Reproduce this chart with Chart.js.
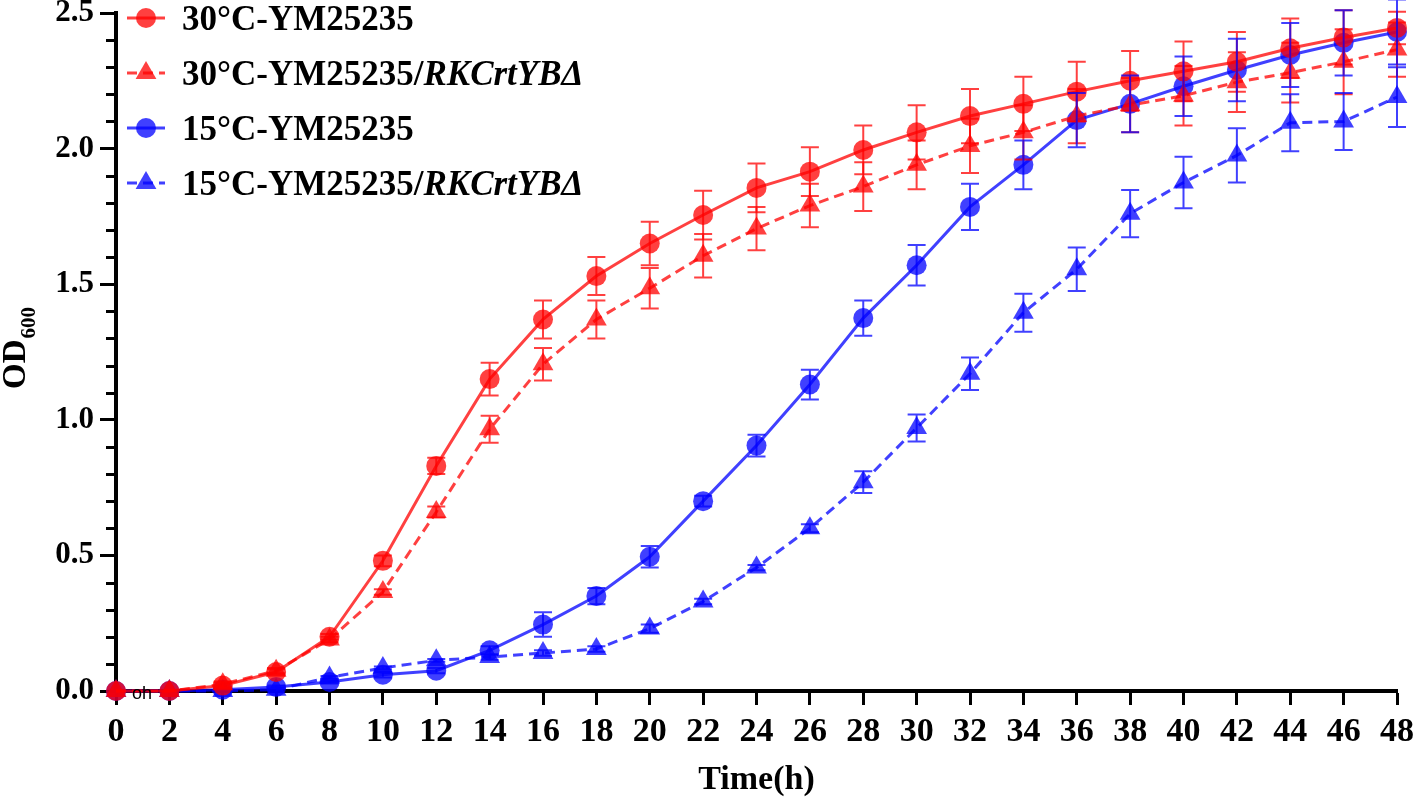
<!DOCTYPE html>
<html>
<head>
<meta charset="utf-8">
<script src="https://cdn.jsdelivr.net/npm/chart.js@4/dist/chart.umd.min.js"></script>
<style>
  html, body { margin: 0; padding: 0; background: #fff; }
  #wrap { width: 1416px; height: 801px; position: relative; }
</style>
</head>
<body>
<div id="wrap"><canvas id="c" width="1416" height="801"></canvas></div>
<script>
// ---- data ----
const timeH = [0,2,4,6,8,10,12,14,16,18,20,22,24,26,28,30,32,34,36,38,40,42,44,46,48];
const xTickLabels = ['0','2','4','6','8','10','12','14','16','18','20','22','24','26','28','30','32','34','36','38','40','42','44','46','48'];
const yMajorTicks = [0, 0.5, 1.0, 1.5, 2.0, 2.5];

const seriesNames = ['30°C-YM25235', '30°C-YM25235/', '15°C-YM25235', '15°C-YM25235/'];
const seriesItalic = ['', 'RKCrtYBΔ', '', 'RKCrtYBΔ'];

const od30WT = [0, 0, 0.02, 0.07, 0.20, 0.48, 0.83, 1.15, 1.37, 1.53, 1.65, 1.755, 1.855, 1.915, 1.995, 2.06, 2.12, 2.165, 2.21, 2.25, 2.285, 2.32, 2.37, 2.41, 2.445];
const sd30WT = [0, 0, 0.01, 0.01, 0.01, 0.02, 0.03, 0.06, 0.07, 0.07, 0.08, 0.09, 0.09, 0.09, 0.09, 0.10, 0.10, 0.10, 0.11, 0.11, 0.11, 0.11, 0.11, 0.10, 0.06];

const od30KO = [0, 0, 0.025, 0.075, 0.19, 0.365, 0.66, 0.965, 1.205, 1.37, 1.485, 1.605, 1.705, 1.79, 1.86, 1.94, 2.01, 2.06, 2.12, 2.16, 2.195, 2.245, 2.28, 2.32, 2.365];
const sd30KO = [0, 0, 0.01, 0.01, 0.01, 0.01, 0.02, 0.05, 0.06, 0.07, 0.075, 0.08, 0.08, 0.08, 0.09, 0.09, 0.10, 0.10, 0.10, 0.10, 0.11, 0.11, 0.11, 0.12, 0.10];

const od15WT = [0, 0, 0.005, 0.015, 0.033, 0.06, 0.075, 0.15, 0.245, 0.35, 0.495, 0.70, 0.905, 1.13, 1.375, 1.57, 1.785, 1.94, 2.105, 2.165, 2.23, 2.29, 2.345, 2.39, 2.43];
const sd15WT = [0, 0, 0, 0.005, 0.005, 0.01, 0.01, 0.015, 0.045, 0.03, 0.04, 0.02, 0.04, 0.055, 0.065, 0.075, 0.085, 0.09, 0.10, 0.105, 0.11, 0.115, 0.118, 0.12, 0.12];

const od15KO = [0, 0, 0, 0.005, 0.05, 0.085, 0.113, 0.125, 0.14, 0.155, 0.23, 0.33, 0.455, 0.60, 0.77, 0.97, 1.17, 1.395, 1.555, 1.76, 1.875, 1.975, 2.095, 2.10, 2.19];
const sd15KO = [0, 0, 0, 0, 0.005, 0.005, 0.005, 0.01, 0.01, 0.01, 0.015, 0.01, 0.01, 0.015, 0.04, 0.05, 0.06, 0.07, 0.08, 0.087, 0.095, 0.10, 0.105, 0.105, 0.11];

// ---- styles ----
const RED = 'rgba(255,0,0,0.75)';
const BLUE = 'rgba(0,0,255,0.75)';
const SERIF = '"Liberation Serif", "Times New Roman", serif';

function mk(label, vals, sd, color, style, dashed) {
  return {
    label: label,
    data: timeH.map((t, i) => ({x: t, y: vals[i]})),
    sd: sd,
    borderColor: color,
    backgroundColor: color,
    pointBackgroundColor: color,
    pointBorderColor: 'rgba(0,0,0,0)',
    pointBorderWidth: 0,
    pointStyle: style,
    pointRadius: style === 'triangle' ? 12 : 10,
    pointHoverRadius: style === 'triangle' ? 12 : 10,
    borderWidth: 3,
    borderDash: dashed ? [10, 6] : [],
    tension: 0,
    fill: false,
    clip: false
  };
}

const datasets = [
  mk(seriesNames[0], od30WT, sd30WT, RED, 'circle', false),
  mk(seriesNames[1], od30KO, sd30KO, RED, 'triangle', true),
  mk(seriesNames[2], od15WT, sd15WT, BLUE, 'circle', false),
  mk(seriesNames[3], od15KO, sd15KO, BLUE, 'triangle', true)
];

function isMajor(v) { return yMajorTicks.some(m => Math.abs(m - v) < 1e-6); }

const customPlugin = {
  id: 'custom',
  afterDatasetsDraw(chart) {
    const ctx = chart.ctx;
    const xs = chart.scales.x, ys = chart.scales.y;
    // error bars
    chart.data.datasets.forEach((ds) => {
      ctx.save();
      ctx.strokeStyle = ds.borderColor;
      ctx.lineWidth = 2;
      ds.data.forEach((p, i) => {
        const e = ds.sd[i];
        if (!e) return;
        const px = xs.getPixelForValue(p.x);
        const yt = ys.getPixelForValue(p.y + e);
        const yb = ys.getPixelForValue(p.y - e);
        ctx.beginPath();
        ctx.moveTo(px, yt); ctx.lineTo(px, yb);
        ctx.moveTo(px - 9, yt); ctx.lineTo(px + 9, yt);
        ctx.moveTo(px - 9, yb); ctx.lineTo(px + 9, yb);
        ctx.stroke();
      });
      ctx.restore();
    });
  },
  afterDraw(chart) {
    const ctx = chart.ctx;
    const xs = chart.scales.x, ys = chart.scales.y;
    const area = chart.chartArea;
    ctx.save();
    // minor y ticks
    ctx.strokeStyle = '#000';
    ctx.lineWidth = 3;
    ys.ticks.forEach(t => {
      if (isMajor(t.value)) return;
      const py = Math.round(ys.getPixelForValue(t.value));
      ctx.beginPath();
      ctx.moveTo(area.left - 10, py + 0.5);
      ctx.lineTo(area.left, py + 0.5);
      ctx.stroke();
    });
    // y axis title OD600
    ctx.fillStyle = '#000';
    const mainFont = 'bold 33px ' + SERIF;
    const subFont = 'bold 21px ' + SERIF;
    ctx.font = mainFont;
    const w1 = ctx.measureText('OD').width;
    ctx.font = subFont;
    const w2 = ctx.measureText('600').width;
    const total = w1 + 1 + w2;
    const cy = (area.top + area.bottom) / 2 - 4;
    ctx.translate(25, cy + total / 2);
    ctx.rotate(-Math.PI / 2);
    ctx.textBaseline = 'alphabetic';
    ctx.textAlign = 'left';
    ctx.font = mainFont;
    ctx.fillText('OD', 0, 0);
    ctx.font = subFont;
    ctx.fillText('600', w1 + 1, 10);
    ctx.restore();

    // small "oh" annotation near origin
    ctx.save();
    ctx.fillStyle = '#000';
    ctx.font = '18px "Liberation Sans", Arial, sans-serif';
    ctx.textBaseline = 'middle';
    ctx.textAlign = 'left';
    ctx.fillText('oh', xs.getPixelForValue(0) + 16, ys.getPixelForValue(0) + 3);
    ctx.restore();

    // legend
    ctx.save();
    chart.data.datasets.forEach((ds, i) => {
      const ly = area.top + 5 + i * 55;
      const lx0 = area.left + 11, lx1 = area.left + 49, mx = area.left + 30;
      ctx.strokeStyle = ds.borderColor;
      ctx.lineWidth = 3;
      ctx.setLineDash(ds.borderDash || []);
      ctx.beginPath();
      ctx.moveTo(lx0, ly); ctx.lineTo(lx1, ly);
      ctx.stroke();
      ctx.setLineDash([]);
      ctx.fillStyle = ds.backgroundColor;
      Chart.helpers.drawPoint(ctx, {pointStyle: ds.pointStyle, radius: ds.pointRadius, rotation: 0, borderWidth: 0}, mx, ly);
      ctx.fillStyle = '#000';
      ctx.textBaseline = 'middle';
      ctx.textAlign = 'left';
      ctx.font = 'bold 35px ' + SERIF;
      const tx = area.left + 66;
      ctx.fillText(seriesNames[i], tx, ly + 3);
      const w = ctx.measureText(seriesNames[i]).width;
      if (seriesItalic[i]) {
        ctx.font = 'italic bold 35px ' + SERIF;
        ctx.fillText(seriesItalic[i], tx + w, ly + 3);
      }
    });
    ctx.restore();
  }
};

new Chart(document.getElementById('c'), {
  type: 'line',
  data: { datasets: datasets },
  options: {
    responsive: false,
    animation: false,
    events: [],
    layout: { padding: { left: 0, right: 19, top: 13, bottom: 0 } },
    plugins: { legend: { display: false }, tooltip: { enabled: false } },
    scales: {
      x: {
        type: 'linear',
        min: 0, max: 48,
        afterFit(s) { s.height = 110; s.paddingLeft = 0; s.paddingRight = 0; },
        border: { display: true, color: '#000', width: 4 },
        grid: { display: true, drawOnChartArea: false, drawTicks: true, tickLength: 14, tickWidth: 3, tickColor: '#000' },
        ticks: {
          stepSize: 2, autoSkip: false, maxTicksLimit: 100, maxRotation: 0, padding: 7,
          color: '#000',
          font: { family: SERIF, size: 34, weight: 'bold' },
          callback: (v) => { const i = timeH.indexOf(v); return i >= 0 ? xTickLabels[i] : ''; }
        },
        title: { display: true, text: 'Time(h)', color: '#000', padding: { top: 0, bottom: 0 },
                 font: { family: SERIF, size: 34, weight: 'bold' } }
      },
      y: {
        type: 'linear',
        min: 0, max: 2.5,
        afterFit(s) { s.width = 116; s.paddingTop = 0; s.paddingBottom = 0; },
        border: { display: true, color: '#000', width: 4 },
        grid: { display: true, drawOnChartArea: false, drawTicks: true, tickLength: 16, tickWidth: 3,
                tickColor: (c) => (c.tick && isMajor(c.tick.value)) ? '#000' : 'rgba(0,0,0,0)' },
        ticks: {
          stepSize: 0.1, autoSkip: false, maxTicksLimit: 100, padding: 6,
          color: '#000',
          font: { family: SERIF, size: 31, weight: 'bold' },
          callback: (v) => isMajor(v) ? Number(v).toFixed(1) : ''
        }
      }
    }
  },
  plugins: [customPlugin]
});
</script>
</body>
</html>
